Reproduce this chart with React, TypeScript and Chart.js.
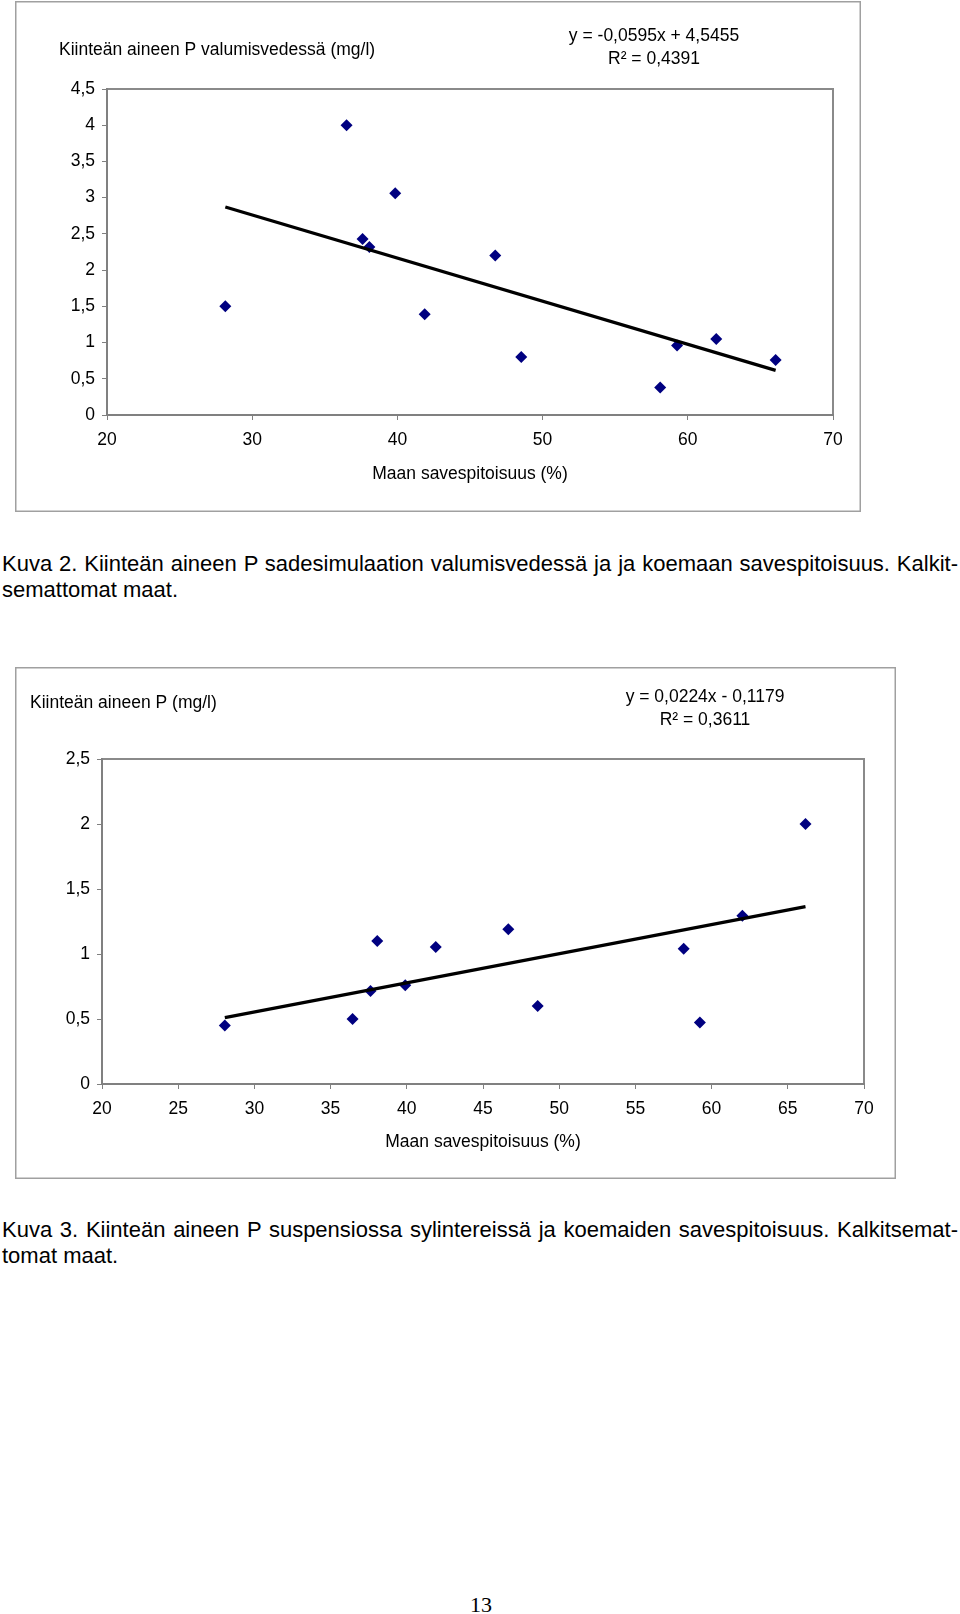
import React, { useEffect, useRef } from "react";
import { Chart, registerables } from "chart.js";

Chart.register(...registerables);

// ---------- Data: Kuva 2 ----------
const clay1 = [28.15, 36.5, 37.6, 38.07, 39.85, 41.88, 46.74, 48.53, 58.1, 59.26, 61.96, 66.05];
const phos1 = [1.5, 4.0, 2.43, 2.32, 3.06, 1.39, 2.2, 0.8, 0.38, 0.96, 1.05, 0.76];
const trendSlope1 = -0.0595;
const trendIntercept1 = 4.5455;
const yTicks1 = [0, 0.5, 1, 1.5, 2, 2.5, 3, 3.5, 4, 4.5];
const xTicks1 = [20, 30, 40, 50, 60, 70];
const title1 = "Kiinteän aineen P valumisvedessä (mg/l)";
const eqText1 = ["y = -0,0595x + 4,5455", "R² = 0,4391"];

// ---------- Data: Kuva 3 ----------
const clay2 = [28.06, 36.44, 37.62, 38.06, 39.9, 41.9, 46.66, 48.59, 58.17, 59.23, 62.02, 66.16];
const phos2 = [0.45, 0.5, 0.715, 1.1, 0.76, 1.053, 1.19, 0.6, 1.04, 0.474, 1.294, 2.0];
const trendSlope2 = 0.0224;
const trendIntercept2 = -0.1179;
const yTicks2 = [0, 0.5, 1, 1.5, 2, 2.5];
const xTicks2 = [20, 25, 30, 35, 40, 45, 50, 55, 60, 65, 70];
const title2 = "Kiinteän aineen P (mg/l)";
const eqText2 = ["y = 0,0224x - 0,1179", "R² = 0,3611"];

const xAxisTitle = "Maan savespitoisuus (%)";

const caption2 = [
  "Kuva 2. Kiinteän aineen P sadesimulaation valumisvedessä ja ja koemaan savespitoisuus. Kalkit-",
  "semattomat maat.",
];
const caption3 = [
  "Kuva 3. Kiinteän aineen P suspensiossa sylintereissä ja koemaiden savespitoisuus. Kalkitsemat-",
  "tomat maat.",
];
const pageNumber = "13";

const FONT = '"Liberation Sans", Arial, Helvetica, sans-serif';
const fmt = (v: number) => String(v).replace(".", ",");

const framePlugin = {
  id: "frame",
  beforeDraw(chart: any, _args: any, opts: any) {
    const ctx = chart.ctx;
    const a = chart.chartArea;
    ctx.save();
    ctx.fillStyle = "#ffffff";
    ctx.fillRect(0, 0, chart.width, chart.height);
    ctx.strokeStyle = "#a0a0a0";
    ctx.lineWidth = 1.5;
    ctx.strokeRect(0.75, 0.75, chart.width - 1.5, chart.height - 1.5);
    ctx.strokeStyle = "#8a8a8a";
    ctx.lineWidth = 2;
    ctx.strokeRect(a.left, a.top, a.right - a.left, a.bottom - a.top);
    ctx.fillStyle = "#000";
    ctx.font = `17.5px ${FONT}`;
    ctx.textBaseline = "middle";
    ctx.textAlign = "left";
    ctx.fillText(opts.title, opts.titleX, opts.titleY);
    ctx.textAlign = "center";
    ctx.fillText(opts.eq[0], opts.eqX, opts.eqY);
    ctx.fillText(opts.eq[1], opts.eqX, opts.eqY + 23);
    ctx.restore();
  },
};

type Cfg = {
  width: number;
  height: number;
  padTop: number;
  padRight: number;
  yAxisWidth: number;
  xAxisHeight: number;
  xTitlePad: number;
  clay: number[];
  phos: number[];
  slope: number;
  intercept: number;
  yTicks: number[];
  xTicks: number[];
  title: string;
  titleX: number;
  titleY: number;
  eq: string[];
  eqX: number;
  eqY: number;
};

function ScatterChart({ cfg, left, top }: { cfg: Cfg; left: number; top: number }) {
  const ref = useRef<HTMLCanvasElement | null>(null);
  useEffect(() => {
    if (!ref.current) return;
    const xmin = Math.min(...cfg.clay);
    const xmax = Math.max(...cfg.clay);
    const trend = [
      { x: xmin, y: cfg.slope * xmin + cfg.intercept },
      { x: xmax, y: cfg.slope * xmax + cfg.intercept },
    ];
    const tickFont = { family: FONT, size: 17.5 };
    const chart = new Chart(ref.current, {
      type: "scatter",
      data: {
        datasets: [
          {
            type: "line",
            data: trend,
            borderColor: "#000",
            borderWidth: 3.2,
            pointRadius: 0,
            showLine: true,
            fill: false,
          } as any,
          {
            data: cfg.clay.map((x, i) => ({ x, y: cfg.phos[i] })),
            pointStyle: "rectRot",
            pointRadius: 6,
            backgroundColor: "#000080",
            borderColor: "#000080",
            borderWidth: 0,
          },
        ],
      },
      options: {
        animation: false,
        responsive: false,
        maintainAspectRatio: false,
        devicePixelRatio: 1,
        layout: { padding: { left: 0, top: cfg.padTop, right: cfg.padRight, bottom: 0 } },
        plugins: {
          legend: { display: false },
          tooltip: { enabled: false },
          frame: {
            title: cfg.title,
            titleX: cfg.titleX,
            titleY: cfg.titleY,
            eq: cfg.eq,
            eqX: cfg.eqX,
            eqY: cfg.eqY,
          },
        } as any,
        scales: {
          x: {
            type: "linear",
            min: cfg.xTicks[0],
            max: cfg.xTicks[cfg.xTicks.length - 1],
            afterBuildTicks: (s: any) => {
              s.ticks = cfg.xTicks.map((v) => ({ value: v }));
            },
            afterFit: (s: any) => {
              s.height = cfg.xAxisHeight;
            },
            grid: { drawOnChartArea: false, drawTicks: true, tickLength: 5, color: "#808080", lineWidth: 1 },
            border: { display: true, color: "#808080", width: 2 },
            ticks: {
              padding: 10,
              color: "#000",
              font: tickFont,
              maxRotation: 0,
              autoSkip: false,
              callback: (v: any) => fmt(Number(v)),
            },
            title: {
              display: true,
              text: xAxisTitle,
              color: "#000",
              font: tickFont,
              padding: { top: 0, bottom: cfg.xTitlePad },
            },
          },
          y: {
            type: "linear",
            min: cfg.yTicks[0],
            max: cfg.yTicks[cfg.yTicks.length - 1],
            afterBuildTicks: (s: any) => {
              s.ticks = cfg.yTicks.map((v) => ({ value: v }));
            },
            afterFit: (s: any) => {
              s.width = cfg.yAxisWidth;
            },
            grid: { drawOnChartArea: false, drawTicks: true, tickLength: 5, color: "#808080", lineWidth: 1 },
            border: { display: true, color: "#808080", width: 2 },
            ticks: {
              padding: 7,
              color: "#000",
              font: tickFont,
              autoSkip: false,
              callback: (v: any) => fmt(Number(v)),
            },
          },
        },
      } as any,
      plugins: [framePlugin as any],
    });
    return () => chart.destroy();
  }, [cfg]);
  return (
    <canvas
      ref={ref}
      width={cfg.width}
      height={cfg.height}
      style={{ position: "absolute", left, top, width: cfg.width, height: cfg.height }}
    />
  );
}

const cfg1: Cfg = {
  width: 846,
  height: 511,
  padTop: 88,
  padRight: 28,
  yAxisWidth: 92,
  xAxisHeight: 97,
  xTitlePad: 27,
  clay: clay1,
  phos: phos1,
  slope: trendSlope1,
  intercept: trendIntercept1,
  yTicks: yTicks1,
  xTicks: xTicks1,
  title: title1,
  titleX: 44,
  titleY: 49,
  eq: eqText1,
  eqX: 639,
  eqY: 35,
};

const cfg2: Cfg = {
  width: 881,
  height: 512,
  padTop: 92,
  padRight: 32,
  yAxisWidth: 87,
  xAxisHeight: 95,
  xTitlePad: 26,
  clay: clay2,
  phos: phos2,
  slope: trendSlope2,
  intercept: trendIntercept2,
  yTicks: yTicks2,
  xTicks: xTicks2,
  title: title2,
  titleX: 15,
  titleY: 36,
  eq: eqText2,
  eqX: 690,
  eqY: 30,
};

const captionFont: React.CSSProperties = {
  position: "absolute",
  left: 2,
  width: 956,
  fontFamily: FONT,
  fontSize: 22,
  lineHeight: "25px",
  color: "#000",
  whiteSpace: "nowrap",
};

function Caption({ lines, top }: { lines: string[]; top: number }) {
  return (
    <>
      <div style={{ ...captionFont, top, textAlign: "justify", textAlignLast: "justify" as any }}>{lines[0]}</div>
      <div style={{ ...captionFont, top: top + 25.5 }}>{lines[1]}</div>
    </>
  );
}

export default function App() {
  return (
    <div style={{ position: "absolute", left: 0, top: 0, width: 960, height: 1614, background: "#fff", overflow: "hidden" }}>
      <ScatterChart cfg={cfg1} left={15} top={1} />
      <Caption lines={caption2} top={551} />
      <ScatterChart cfg={cfg2} left={15} top={667} />
      <Caption lines={caption3} top={1217} />
      <div
        style={{
          position: "absolute",
          left: 0,
          width: 962,
          top: 1592,
          textAlign: "center",
          fontFamily: '"Liberation Serif", "Times New Roman", serif',
          fontSize: 22,
          lineHeight: "26px",
          color: "#000",
        }}
      >
        {pageNumber}
      </div>
    </div>
  );
}
